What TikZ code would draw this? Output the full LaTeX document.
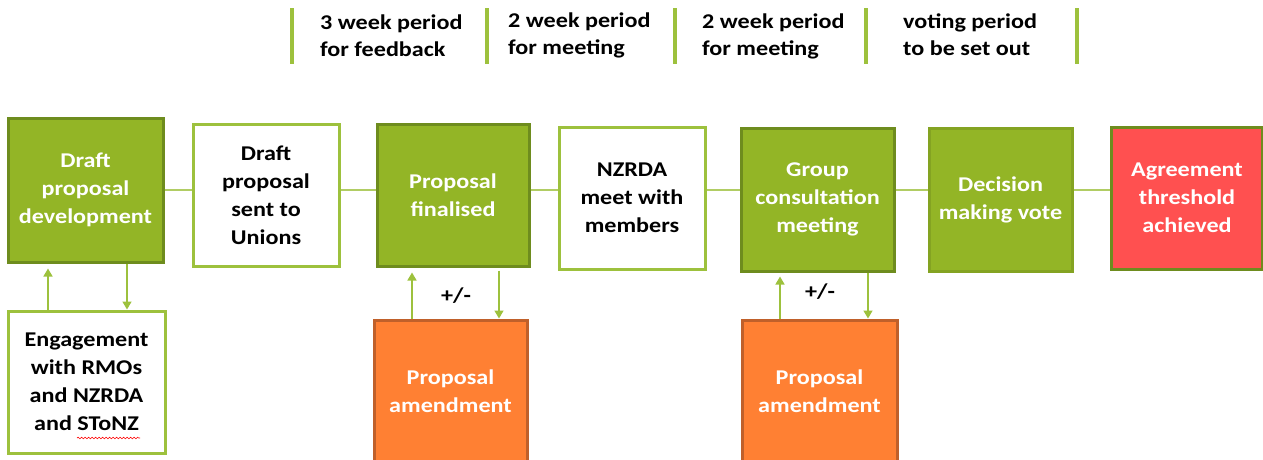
\documentclass[tikz,border=0pt]{standalone}
\usepackage{fontspec}
\setmainfont{Carlito}[FakeStretch=1.15]
\usetikzlibrary{arrows.meta,decorations.pathmorphing}

\definecolor{leaf}{HTML}{93B526}
\definecolor{leafdark}{HTML}{6E8C1E}
\definecolor{leaflight}{HTML}{9DC13D}
\definecolor{carrot}{HTML}{FF8033}
\definecolor{carrotdark}{HTML}{C0602A}
\definecolor{alarm}{HTML}{FF5050}

\begin{document}
\begin{tikzpicture}[x=1pt,y=-1pt,
    box/.style={rectangle,line width=3pt,align=center,inner sep=0pt,
      font=\fontsize{21}{28}\selectfont\bfseries},
    greenbox/.style={box,fill=leaf,draw=leafdark,text=white},
    whitebox/.style={box,fill=white,draw=leaflight,text=black},
    orangebox/.style={box,fill=carrot,draw=carrotdark,text=white},
    redbox/.style={box,fill=alarm,draw=leafdark,text=white},
    link/.style={draw=leaflight!80,line width=1.5pt},
    feed/.style={draw=leaflight,line width=1.5pt,-{Triangle[width=9pt,length=8pt]}},
    bar/.style={draw=leaflight,line width=3.5pt},
    period/.style={anchor=west,align=left,inner sep=0pt,
      font=\fontsize{21}{27}\selectfont\bfseries}]
    \useasboundingbox (0,0) rectangle (1263,459);

    % time periods
    \coordinate (b1) at (292,8);
    \coordinate (b2) at (487,8);
    \coordinate (b3) at (675,8);
    \coordinate (b4) at (866,8);
    \coordinate (b5) at (1077,8);
    \foreach \b in {b1,b2,b3,b4,b5}
      \draw[bar] (\b) -- ++(0,56);
    \node[period] (p1) at (320,36) {3 week period\\for feedback};
    \node[period] (p2) at (508,35) {2 week period\\for meeting};
    \node[period] (p3) at (702,36) {2 week period\\for meeting};
    \node[period] (p4) at (903,35) {voting period\\to be set out};

    % main row
    \node[greenbox,minimum width=155,minimum height=144] (dev) at (85.5,190) {Draft\\proposal\\development};
    \node[whitebox,minimum width=146,minimum height=142] (unions) at (266,195) {Draft\\proposal\\sent to\\Unions};
    \node[greenbox,minimum width=152,minimum height=142] (final) at (453,195) {Proposal\\finalised};
    \node[whitebox,minimum width=146,minimum height=142] (members) at (632,198) {NZRDA\\meet with\\members};
    \node[greenbox,minimum width=153,minimum height=143] (group) at (817.5,199.5) {Group\\consultation\\meeting};
    \node[greenbox,draw=leaf!90!black,minimum width=143,minimum height=143] (vote) at (1000.5,199.5) {Decision\\making vote};
    \node[redbox,minimum width=151,minimum height=142] (agree) at (1187,198) {Agreement\\threshold\\achieved};

    % lower row
    \node[whitebox,minimum width=157,minimum height=142] (engage) at (86.5,382) {Engagement\\with RMOs\\and NZRDA\\and SToNZ};
    \node[orangebox,minimum width=153,minimum height=142] (amendA) at (450.5,391) {Proposal\\amendment};
    \node[orangebox,minimum width=155,minimum height=142] (amendB) at (819.5,391) {Proposal\\amendment};
    \draw[red,line width=0.6pt,decorate,decoration={snake,amplitude=0.8pt,segment length=3.5pt}]
      (77,438) -- (140,438);

    % connectors
    \draw[link] (dev.east |- 0,190) -- (unions.west |- 0,190);
    \draw[link] (unions.east |- 0,190) -- (final.west |- 0,190);
    \draw[link] (final.east |- 0,190) -- (members.west |- 0,190);
    \draw[link] (members.east |- 0,190) -- (group.west |- 0,190);
    \draw[link] (group.east |- 0,190) -- (vote.west |- 0,190);
    \draw[link] (vote.east |- 0,190) -- (agree.west |- 0,190);

    \draw[feed] (engage.north -| 48,0) -- ([yshift=-5]dev.south -| 48,0);
    \draw[feed] (dev.south -| 127,0) -- (engage.north -| 127,0);
    \draw[feed] (amendA.north -| 412,0) -- ([yshift=-5]final.south -| 412,0);
    \draw[feed] ([yshift=-3]final.south -| 499,0) -- (amendA.north -| 499,0);
    \draw[feed] (amendB.north -| 780,0) -- ([yshift=-4]group.south -| 780,0);
    \draw[feed] (group.south -| 868,0) -- (amendB.north -| 868,0);

    \node[font=\fontsize{21}{27}\selectfont\bfseries] (pmA) at (456,296) {+/-};
    \node[font=\fontsize{21}{27}\selectfont\bfseries] (pmB) at (820,292) {+/-};
\end{tikzpicture}
\end{document}
